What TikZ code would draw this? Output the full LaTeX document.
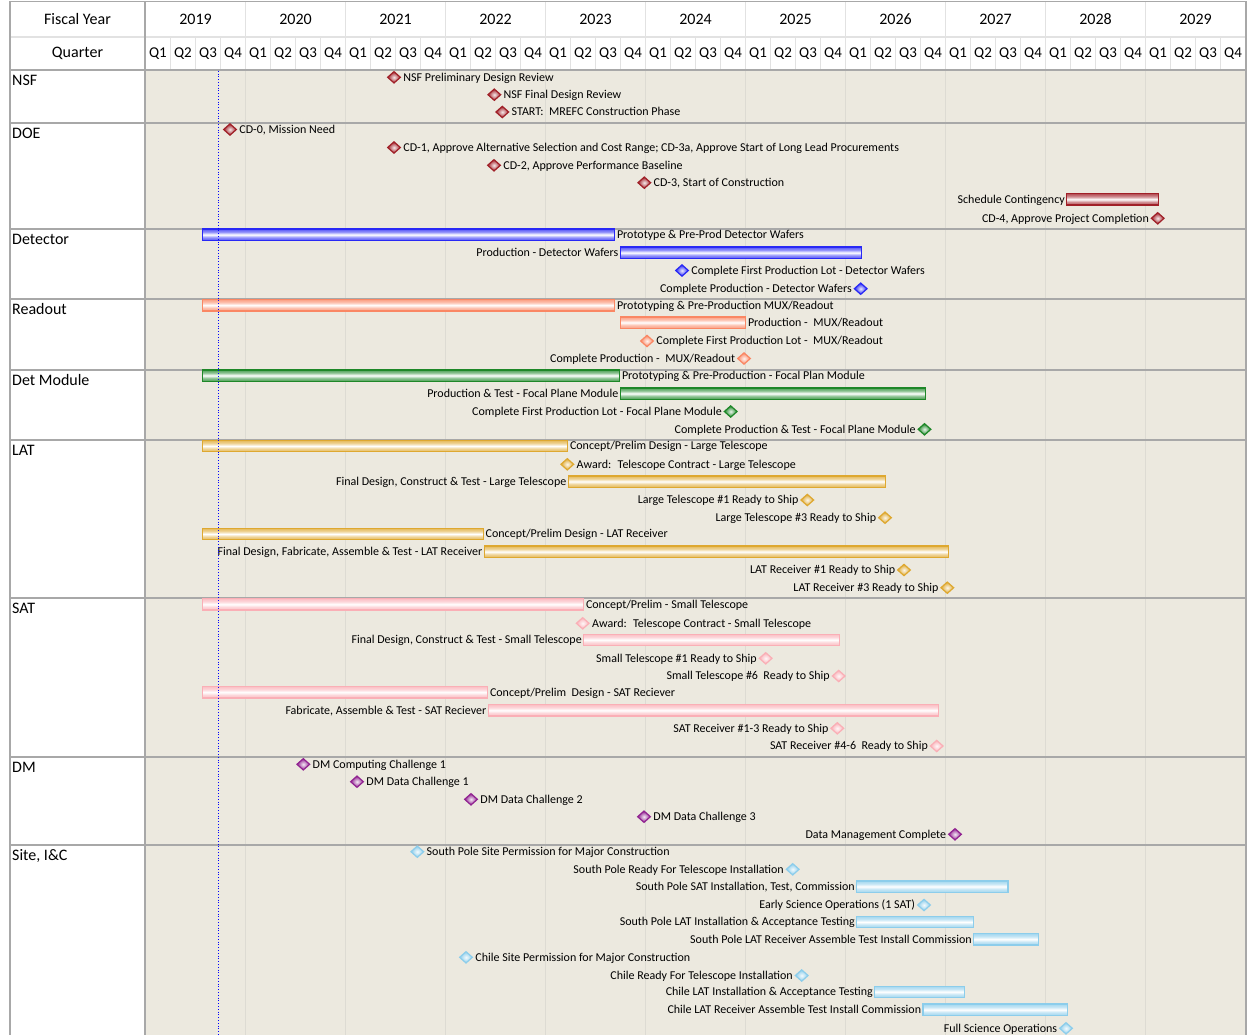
\documentclass[tikz,border=0pt]{standalone}
\usepackage{fontspec}
\setmainfont{Carlito}
\usetikzlibrary{shapes.geometric}

\definecolor{chartbg}{RGB}{236,233,223}
\definecolor{yearline}{RGB}{221,219,211}
\definecolor{hdrline}{RGB}{226,226,226}
\definecolor{frame}{RGB}{168,168,168}
\definecolor{cRed}{RGB}{160,32,40}
\definecolor{cBlue}{RGB}{40,40,245}
\definecolor{cSalmon}{RGB}{250,135,100}
\definecolor{cGreen}{RGB}{30,135,40}
\definecolor{cGold}{RGB}{222,168,48}
\definecolor{cPink}{RGB}{250,175,182}
\definecolor{cPurple}{RGB}{145,35,145}
\definecolor{cSky}{RGB}{140,205,235}

% bar fill per colour: coloured edges with a narrow white band in the middle
\newcommand{\declbar}[1]{%
  \pgfdeclareverticalshading{bar-#1}{100bp}{color(0bp)=(#1!80!white); color(25bp)=(#1!80!white);
    color(38bp)=(#1!50!white); color(50bp)=(white); color(62bp)=(#1!50!white);
    color(75bp)=(#1!80!white); color(100bp)=(#1!80!white)}}
\declbar{cRed}\declbar{cBlue}\declbar{cSalmon}\declbar{cGreen}
\declbar{cGold}\declbar{cPink}\declbar{cSky}

% milestone with its label on the right / left
\newcommand{\msR}[5]{%
  \node[gem=#4] (#1) at (#2,#3) {};
  \node[lbl, anchor=west] (#1-txt) at ([xshift=2pt]#1.east) {#5};}
\newcommand{\msL}[5]{%
  \node[gem=#4] (#1) at (#2,#3) {};
  \node[lbl, anchor=east] (#1-txt) at ([xshift=-1.5pt]#1.west) {#5};}
% task bar from x1 to x2 with its label on the right / left
\newcommand{\barR}[6]{%
  \node[gbar=#5, minimum width={(#3-#2)*1pt}] (#1) at (#2,#4) {};
  \node[lbl, anchor=west] (#1-txt) at ([xshift=1.5pt]#1.east) {#6};}
\newcommand{\barL}[6]{%
  \node[gbar=#5, minimum width={(#3-#2)*1pt}] (#1) at (#2,#4) {};
  \node[lbl, anchor=east] (#1-txt) at ([xshift=-1pt]#1.west) {#6};}

\begin{document}
\begin{tikzpicture}[x=1pt,y=-1pt,
  lbl/.style={font=\fontsize{12}{14}\selectfont, inner sep=0pt, text height=8.5pt, text depth=0.8pt},
  hdr/.style={font=\fontsize{16}{18}\selectfont, inner sep=0pt},
  qtr/.style={font=\fontsize{15}{17}\selectfont, inner sep=0pt},
  sect/.style={font=\fontsize{16}{18}\selectfont, inner sep=0pt, anchor=base west},
  gbar/.style={draw=#1, line width=1.3pt, shade, shading=bar-#1,
    minimum height=11.3pt, inner sep=0pt, anchor=west},
  gem/.style={diamond, draw=#1, line width=1.2pt, inner color=#1!10, outer color=#1,
    minimum width=13.2pt, minimum height=11.8pt, inner sep=0pt},
]
\useasboundingbox (0,0) rectangle (1247,1035);

% backgrounds
\fill[white] (0,0) rectangle (1247,1035);
\fill[chartbg] (145,70) rectangle (1246,1035);

% year grid in the chart area
\foreach \k in {1,...,10}
  \draw[yearline, line width=1pt] ({145.5+100*\k},70) -- ({145.5+100*\k},1035);

% header grid
\foreach \k in {1,...,43}
  \draw[hdrline, line width=1pt] ({145.5+25*\k},37) -- ({145.5+25*\k},70);
\foreach \k in {1,...,10}
  \draw[hdrline, line width=1pt] ({145.5+100*\k},1.5) -- ({145.5+100*\k},37);
\draw[hdrline, line width=2pt] (10,37) -- (1246,37);

% frame and section separators
\foreach \yy in {70,123,229,299,370,440,598,757,845}
  \draw[frame, line width=1.5pt] (10,\yy) -- (1246,\yy);
\draw[frame, line width=1.5pt] (10,1.5) -- (1246,1.5);
\draw[frame, line width=1.5pt] (10,1.5) -- (10,1035);
\draw[frame, line width=1.5pt] (145,1.5) -- (145,1035);
\draw[frame, line width=1.5pt] (1246,1.5) -- (1246,1035);

% header texts
\node[hdr] (fy) at (77.5,19.5) {Fiscal Year};
\node[hdr] (qlab) at (77.5,53.5) {Quarter};
\foreach \yy [count=\i from 0] in {2019,...,2029}
  \node[hdr] (y\yy) at ({195.5+100*\i},19.5) {\yy};
\foreach \i in {0,...,10}
  \foreach \q in {1,...,4}
    \node[qtr] (q\i-\q) at ({133+100*\i+25*\q},53.5) {Q\q};

% section names
\node[sect] (s-nsf) at (12,85.5) {NSF};
\node[sect] (s-doe) at (12,138.5) {DOE};
\node[sect] (s-det) at (12,244.5) {Detector};
\node[sect] (s-ro) at (12,314.5) {Readout};
\node[sect] (s-dm) at (12,385.5) {Det Module};
\node[sect] (s-lat) at (12,455.5) {LAT};
\node[sect] (s-sat) at (12,613.5) {SAT};
\node[sect] (s-data) at (12,772.5) {DM};
\node[sect] (s-site) at (12,860.5) {Site, I\&C};

% NSF
\msR{nsf1}{394}{77.3}{cRed}{NSF Preliminary Design Review}
\msR{nsf2}{494.3}{94.7}{cRed}{NSF Final Design Review}
\msR{nsf3}{502.3}{112}{cRed}{START:~ MREFC Construction Phase}

% DOE
\msR{doe0}{230}{129.5}{cRed}{CD-0, Mission Need}
\msR{doe1}{394}{147.5}{cRed}{CD-1, Approve Alternative Selection and Cost Range; CD-3a, Approve Start of Long Lead Procurements}
\msR{doe2}{494}{165.3}{cRed}{CD-2, Approve Performance Baseline}
\msR{doe3}{644.3}{182.7}{cRed}{CD-3, Start of Construction}
\barL{doec}{1066}{1157.5}{199.3}{cRed}{Schedule Contingency}
\msL{doe4}{1157.7}{218.3}{cRed}{CD-4, Approve Project Completion}

% Detector
\barR{det1}{202}{614}{234.7}{cBlue}{Prototype \& Pre-Prod Detector Wafers}
\barL{det2}{619.5}{860.5}{252.7}{cBlue}{Production - Detector Wafers}
\msR{det3}{682}{270.5}{cBlue}{Complete First Production Lot - Detector Wafers}
\msL{det4}{860.7}{288.7}{cBlue}{Complete Production - Detector Wafers}

% Readout
\barR{ro1}{202}{614}{305.2}{cSalmon}{Prototyping \& Pre-Production MUX/Readout}
\barR{ro2}{619.5}{745}{322.5}{cSalmon}{Production -~ MUX/Readout}
\msR{ro3}{647}{341}{cSalmon}{Complete First Production Lot -~ MUX/Readout}
\msL{ro4}{744}{358.5}{cSalmon}{Complete Production -~ MUX/Readout}

% Det Module
\barR{dm1}{202}{619}{375.5}{cGreen}{Prototyping \& Pre-Production - Focal Plan Module}
\barL{dm2}{619.5}{925}{393.5}{cGreen}{Production \& Test - Focal Plane Module}
\msL{dm3}{730.7}{411.5}{cGreen}{Complete First Production Lot - Focal Plane Module}
\msL{dm4}{924.5}{429.3}{cGreen}{Complete Production \& Test - Focal Plane Module}

% LAT
\barR{lat1}{202}{567}{446}{cGold}{Concept/Prelim Design - Large Telescope}
\msR{lat2}{567.3}{464.3}{cGold}{Award:~ Telescope Contract - Large Telescope}
\barL{lat3}{567.5}{885}{481.5}{cGold}{Final Design, Construct \& Test - Large Telescope}
\msL{lat4}{807.3}{500}{cGold}{Large Telescope \#1 Ready to Ship}
\msL{lat5}{885}{517.7}{cGold}{Large Telescope \#3 Ready to Ship}
\barR{lat6}{202}{482.7}{534}{cGold}{Concept/Prelim Design - LAT Receiver}
\barL{lat7}{483.5}{947.5}{551.7}{cGold}{Final Design, Fabricate, Assemble \& Test - LAT Receiver}
\msL{lat8}{904}{570}{cGold}{LAT Receiver \#1 Ready to Ship}
\msL{lat9}{947.3}{587.7}{cGold}{LAT Receiver \#3 Ready to Ship}

% SAT
\barR{sat1}{202}{583}{604.3}{cPink}{Concept/Prelim - Small Telescope}
\msR{sat2}{582.7}{623.3}{cPink}{Award:~ Telescope Contract - Small Telescope}
\barL{sat3}{583}{838.7}{639.8}{cPink}{Final Design, Construct \& Test - Small Telescope}
\msL{sat4}{765.7}{658.3}{cPink}{Small Telescope \#1 Ready to Ship}
\msL{sat5}{838.7}{676}{cPink}{Small Telescope \#6~ Ready to Ship}
\barR{sat6}{202}{487}{692.2}{cPink}{Concept/Prelim~ Design - SAT Reciever}
\barL{sat7}{487.5}{937.7}{710.3}{cPink}{Fabricate, Assemble \& Test - SAT Reciever}
\msL{sat8}{837.3}{728.3}{cPink}{SAT Receiver \#1-3 Ready to Ship}
\msL{sat9}{936.7}{746}{cPink}{SAT Receiver \#4-6~ Ready to Ship}

% DM
\msR{dmc1}{303.3}{764.3}{cPurple}{DM Computing Challenge 1}
\msR{dmd1}{357}{781.7}{cPurple}{DM Data Challenge 1}
\msR{dmd2}{471}{799.3}{cPurple}{DM Data Challenge 2}
\msR{dmd3}{644}{816.7}{cPurple}{DM Data Challenge 3}
\msL{dmok}{955}{834.3}{cPurple}{Data Management Complete}

% Site, I&C
\msR{sp1}{417.3}{851.7}{cSky}{South Pole Site Permission for Major Construction}
\msL{sp2}{792.7}{869.3}{cSky}{South Pole Ready For Telescope Installation}
\barL{sp3}{856}{1007.3}{886.5}{cSky}{South Pole SAT Installation, Test, Commission}
\msL{sp4}{924}{905}{cSky}{Early Science Operations (1 SAT)}
\barL{sp5}{856}{972.7}{922}{cSky}{South Pole LAT Installation \& Acceptance Testing}
\barL{sp6}{973}{1038}{939.2}{cSky}{South Pole LAT Receiver Assemble Test Install Commission}
\msR{ch1}{466}{957.3}{cSky}{Chile Site Permission for Major Construction}
\msL{ch2}{801.7}{975.5}{cSky}{Chile Ready For Telescope Installation}
\barL{ch3}{874}{963.7}{991.8}{cSky}{Chile LAT Installation \& Acceptance Testing}
\barL{ch4}{922.3}{1066.7}{1009.7}{cSky}{Chile LAT Receiver Assemble Test Install Commission}
\msL{ch5}{1066}{1028.3}{cSky}{Full Science Operations}

% status date line
\coordinate (today-top) at (218.5,70.8);
\coordinate (today-bot) at (218.5,1035);
\draw[blue, dotted, line width=0.8pt] (today-top) -- (today-bot);
\end{tikzpicture}
\end{document}
